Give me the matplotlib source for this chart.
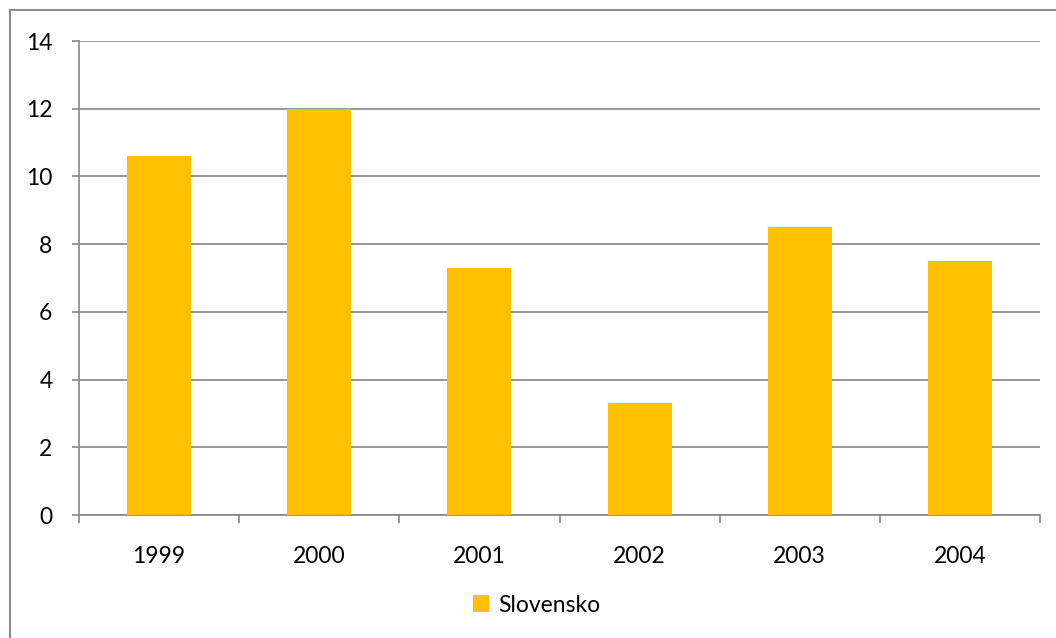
import matplotlib.pyplot as plt
from matplotlib.patches import Rectangle

# data
years = ['1999', '2000', '2001', '2002', '2003', '2004']
values = [10.6, 12.0, 7.3, 3.3, 8.5, 7.5]
yticks = [0, 2, 4, 6, 8, 10, 12, 14]

plt.rcParams['font.family'] = ['Lato', 'DejaVu Sans']

fig = plt.figure(figsize=(10.56, 6.38), dpi=100)
ax = fig.add_axes([79 / 1056, 1 - 515 / 638, 961 / 1056, 474 / 638])

grid_col = '#868686'
x = list(range(len(years)))
ax.bar(x, values, width=0.4, color='#FFC000', zorder=3, label='Slovensko')

ax.set_xlim(-0.5, len(years) - 0.5)
ax.set_ylim(0, 14)
ax.set_yticks(yticks)
ax.set_yticklabels([str(t) for t in yticks])
ax.yaxis.grid(True, color=grid_col, linewidth=1.2, zorder=0)

# category ticks sit between the bars
ax.set_xticks([i - 0.5 for i in range(len(years) + 1)])
ax.set_xticklabels([])
ax.set_xticks(x, minor=True)
ax.set_xticklabels(years, minor=True)
ax.tick_params(axis='x', which='major', length=6, width=1.2, color=grid_col, direction='out')
ax.tick_params(axis='x', which='minor', length=0, pad=22, labelsize=16.5)
ax.tick_params(axis='y', length=5, width=1.2, color=grid_col, pad=14, labelsize=16.5)

for side in ['top', 'right']:
    ax.spines[side].set_visible(False)
for side in ['left', 'bottom']:
    ax.spines[side].set_color(grid_col)
    ax.spines[side].set_linewidth(1.2)

leg = fig.legend(loc='center', bbox_to_anchor=(537 / 1056, 1 - 605 / 638), frameon=False,
                 fontsize=16.5, handlelength=0.7, handleheight=0.7, handletextpad=0.4)

# outer chart border
fig.patches.append(Rectangle((10 / 1056, -0.01), 1.0, 1 - 10 / 638 + 0.01, transform=fig.transFigure,
                             fill=False, edgecolor='#8c8c8c', linewidth=1.5))

plt.savefig('out.png', dpi=100)
